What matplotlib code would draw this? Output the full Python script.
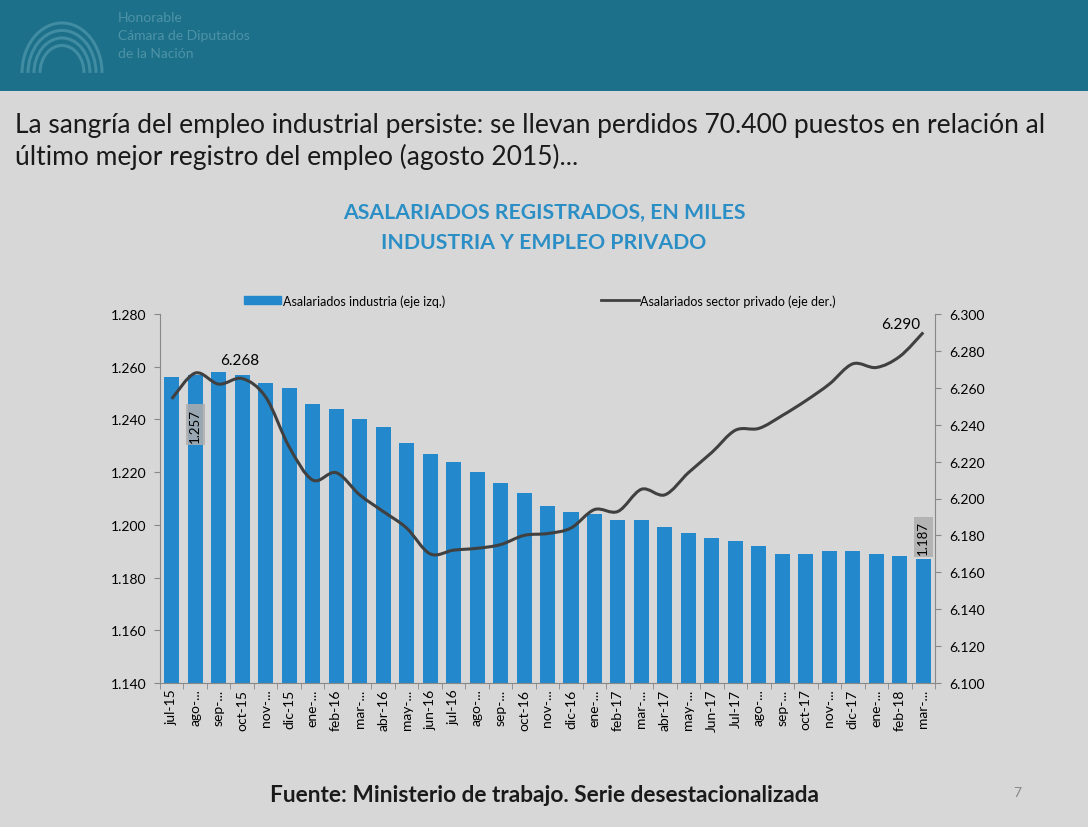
import matplotlib.pyplot as plt
import matplotlib.patches as mpatches
from matplotlib.lines import Line2D
from matplotlib.path import Path
from matplotlib.ticker import FuncFormatter, FixedLocator

plt.rcParams['font.family'] = ['Lato', 'DejaVu Sans']

meses = ["jul-15", "ago-...", "sep-...", "oct-15", "nov-...", "dic-15", "ene-...", "feb-16",
         "mar-...", "abr-16", "may-...", "jun-16", "jul-16", "ago-...", "sep-...", "oct-16",
         "nov-...", "dic-16", "ene-...", "feb-17", "mar-...", "abr-17", "may-...", "Jun-17",
         "Jul-17", "ago-...", "sep-...", "oct-17", "nov-...", "dic-17", "ene-...", "feb-18",
         "mar-..."]

# miles de asalariados
industria = [1256, 1257, 1258, 1257, 1254, 1252, 1246, 1244, 1240, 1237, 1231, 1227, 1224,
             1220, 1216, 1212, 1207, 1205, 1204, 1202, 1202, 1199, 1197, 1195, 1194, 1192,
             1189, 1189, 1190, 1190, 1189, 1188, 1187]
privado = [6254, 6268, 6262, 6265, 6255, 6228, 6210, 6214, 6202, 6193, 6184, 6170, 6172,
           6173, 6175, 6180, 6181, 6184, 6194, 6193, 6205, 6202, 6214, 6225, 6237, 6238,
           6245, 6253, 6262, 6273, 6271, 6277, 6290]

azul = '#2389cc'
gris_linea = '#404040'

def miles(v, pos=None):
    return f"{int(round(v)):,}".replace(",", ".")

def curva_suave(xs, ys):
    # linea suavizada tipo Excel (Bezier por Catmull-Rom)
    pts = list(zip(xs, ys))
    verts = [pts[0]]
    codes = [Path.MOVETO]
    n = len(pts)
    for i in range(n - 1):
        p0 = pts[i - 1] if i > 0 else pts[i]
        p1 = pts[i]
        p2 = pts[i + 1]
        p3 = pts[i + 2] if i + 2 < n else pts[i + 1]
        c1 = (p1[0] + (p2[0] - p0[0]) / 6, p1[1] + (p2[1] - p0[1]) / 6)
        c2 = (p2[0] - (p3[0] - p1[0]) / 6, p2[1] - (p3[1] - p1[1]) / 6)
        verts += [c1, c2, p2]
        codes += [Path.CURVE4] * 3
    return Path(verts, codes)

fig = plt.figure(figsize=(10.88, 8.28), dpi=100)
fig.patch.set_facecolor('#d7d7d7')

# franja superior
banda = fig.add_axes([0, 0.889, 1, 0.111])
banda.set_xlim(0, 1088)
banda.set_ylim(0, 92)
banda.axis('off')
banda.add_patch(mpatches.Rectangle((0, 0), 1088, 92, color='#1d7089'))
for r in [22, 28, 34, 40]:
    banda.add_patch(mpatches.Arc((62, 18), 2 * r, 2 * r * 1.25, theta1=0, theta2=180,
                                 color='#4f98ad', lw=2.2, alpha=0.7))
banda.text(118, 74, "Honorable", color='#4d93a7', fontsize=10, va='center')
banda.text(118, 56, "Cámara de Diputados", color='#4d93a7', fontsize=10, va='center')
banda.text(118, 38, "de la Nación", color='#4d93a7', fontsize=10, va='center')

fig.text(15 / 1088, 1 - 125 / 828,
         "La sangría del empleo industrial persiste: se llevan perdidos 70.400 puestos en relación al",
         fontsize=19, color='#1a1a1a', va='center')
fig.text(15 / 1088, 1 - 157 / 828, "último mejor registro del empleo (agosto 2015)...",
         fontsize=19, color='#1a1a1a', va='center')

fig.text(0.5, 1 - 213 / 828, "ASALARIADOS REGISTRADOS, EN MILES", ha='center', va='center',
         fontsize=15.3, color='#2b8fc6', fontweight='bold')
fig.text(0.5, 1 - 243 / 828, "INDUSTRIA Y EMPLEO PRIVADO", ha='center', va='center',
         fontsize=15.3, color='#2b8fc6', fontweight='bold')

ax = fig.add_axes([160 / 1088, 1 - 684 / 828, 775 / 1088, 369 / 828])
ax.set_facecolor('none')
x = list(range(len(meses)))
ax.bar(x, industria, width=0.64, color=azul, zorder=2)
ax.set_ylim(1140, 1280)
ax.set_xlim(-0.5, len(meses) - 0.5)
ax.set_yticks(range(1140, 1281, 20))
ax.yaxis.set_major_formatter(FuncFormatter(miles))
ax.set_xticks(x)
ax.set_xticklabels(meses, rotation=90, fontsize=10)
ax.xaxis.set_minor_locator(FixedLocator([i - 0.5 for i in range(len(meses) + 1)]))
ax.tick_params(axis='x', which='major', length=0, pad=4)
ax.tick_params(axis='x', which='minor', length=4, color='#888888')
ax.tick_params(axis='y', labelsize=10, length=4, color='#888888', pad=6)
for s in ['top', 'right']:
    ax.spines[s].set_visible(False)
ax.spines['left'].set_color('#888888')
ax.spines['bottom'].set_color('#888888')

ax2 = ax.twinx()
ax2.add_patch(mpatches.PathPatch(curva_suave(x, privado), fc='none', ec=gris_linea, lw=2.2,
                                 zorder=3))
ax2.set_ylim(6100, 6300)
ax2.set_yticks(range(6100, 6301, 20))
ax2.yaxis.set_major_formatter(FuncFormatter(miles))
ax2.tick_params(axis='y', labelsize=10, length=4, color='#888888', pad=6)
for s in ['top', 'left', 'bottom']:
    ax2.spines[s].set_visible(False)
ax2.spines['right'].set_color('#888888')

# etiquetas de datos
ax2.annotate(miles(privado[1]), (1, privado[1]), xytext=(32, 4), textcoords='offset points',
             ha='center', va='bottom', fontsize=11)
ax2.annotate(miles(privado[-1]), (32, privado[-1]), xytext=(-16, 1), textcoords='offset points',
             ha='center', va='bottom', fontsize=11)
caja = dict(boxstyle='square,pad=0.25', fc='#adadad', ec='none', alpha=0.85)
ax.annotate(miles(industria[1]), (1, industria[1]), xytext=(0, -36), textcoords='offset points',
            ha='center', va='center', rotation=90, fontsize=9.5, bbox=caja)
ax.annotate(miles(industria[-1]), (32, industria[-1]), xytext=(0, 16), textcoords='offset points',
            ha='center', va='center', rotation=90, fontsize=9.5, bbox=caja)

h_bar = mpatches.Patch(color=azul, label="Asalariados industria (eje izq.)")
h_lin = Line2D([], [], color=gris_linea, lw=2, label="Asalariados sector privado (eje der.)")
ax.legend(handles=[h_bar, h_lin], loc='lower center', bbox_to_anchor=(0.49, 1.0), ncol=2,
          frameon=False, fontsize=9, columnspacing=12.5, handlelength=3.0, handleheight=0.6,
          handletextpad=0.1, borderaxespad=0.2)

fig.text(0.5, 1 - 796 / 828, "Fuente: Ministerio de trabajo. Serie desestacionalizada",
         ha='center', va='center', fontsize=16.3, fontweight='bold', color='#1a1a1a')
fig.text(1017 / 1088, 1 - 793 / 828, "7", ha='center', va='center', fontsize=10, color='#888888')

fig.savefig('out.png', dpi=100, facecolor=fig.get_facecolor())
